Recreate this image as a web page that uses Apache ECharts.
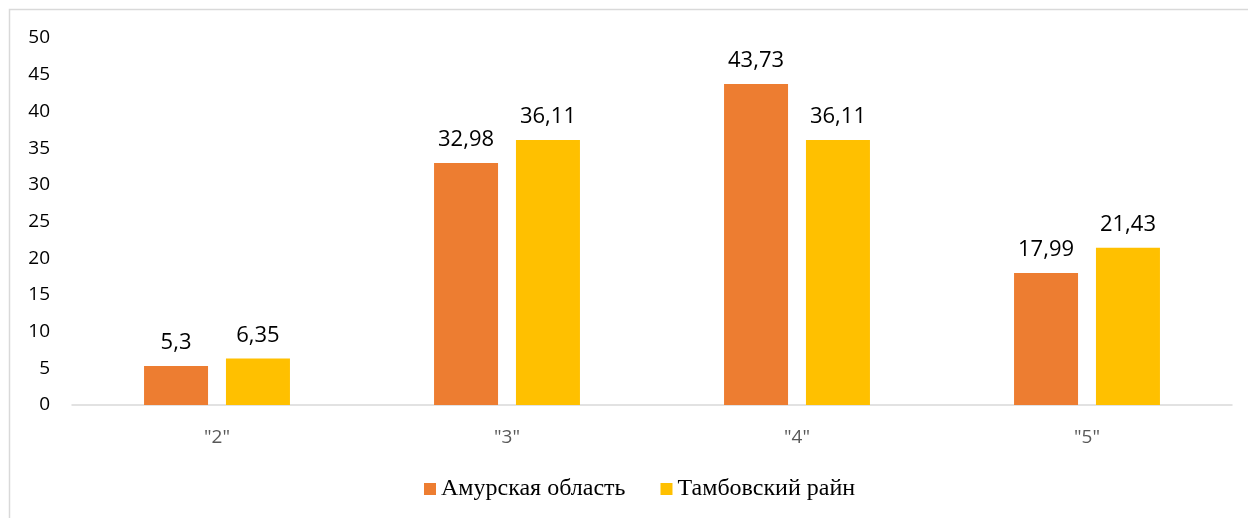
<!DOCTYPE html>
<html>
<head>
<meta charset="utf-8">
<script src="https://cdn.jsdelivr.net/npm/echarts@6/dist/echarts.min.js"></script>
<style>
  html, body { margin: 0; padding: 0; background: #fff; }
  #main { width: 1248px; height: 518px; }
</style>
</head>
<body>
<div id="main"></div>
<script>
    var categories = ['"2"', '"3"', '"4"', '"5"'];
    var seriesNames = ['Амурская область', 'Тамбовский райн'];
    var amurValues = [5.3, 32.98, 43.73, 17.99];
    var tambovValues = [6.35, 36.11, 36.11, 21.43];
    var colors = ['#ED7D31', '#FFC000'];

    var chart = echarts.init(document.getElementById('main'));

    function commaLabel(p) {
        return String(p.value).replace('.', ',');
    }

    var option = {
        animation: false,
        color: colors,
        graphic: [{
            type: 'rect',
            shape: { x: 9.5, y: 9.5, width: 1300, height: 600 },
            style: { fill: 'none', stroke: '#d9d9d9', lineWidth: 1.5 },
            silent: true
        }],
        grid: { left: 72, right: 16, top: 38, bottom: 113 },
        legend: {
            bottom: 12,
            left: 419,
            itemWidth: 12,
            itemHeight: 12,
            itemGap: 35,
            icon: 'rect',
            textStyle: { fontFamily: 'Liberation Serif', fontSize: 24, color: '#000' },
            data: seriesNames
        },
        xAxis: {
            type: 'category',
            data: categories,
            axisLine: { lineStyle: { color: '#d9d9d9', width: 1.5 } },
            axisTick: { show: false },
            axisLabel: { margin: 23, fontFamily: 'Open Sans', fontSize: 19, color: '#595959' }
        },
        yAxis: {
            type: 'value',
            min: 0,
            max: 50,
            interval: 5,
            splitLine: { show: false },
            axisLine: { show: false },
            axisLabel: { margin: 22, fontFamily: 'Open Sans', fontSize: 19, color: '#000' }
        },
        series: [{
            name: seriesNames[0],
            type: 'bar',
            data: amurValues,
            barWidth: 64,
            barGap: '28%',
            label: { show: true, position: 'top', distance: 12, fontFamily: 'Open Sans', fontSize: 22, color: '#000', formatter: commaLabel }
        }, {
            name: seriesNames[1],
            type: 'bar',
            data: tambovValues,
            barWidth: 64,
            label: { show: true, position: 'top', distance: 12, fontFamily: 'Open Sans', fontSize: 22, color: '#000', formatter: commaLabel }
        }]
    };

    chart.setOption(option);
</script>
</body>
</html>
